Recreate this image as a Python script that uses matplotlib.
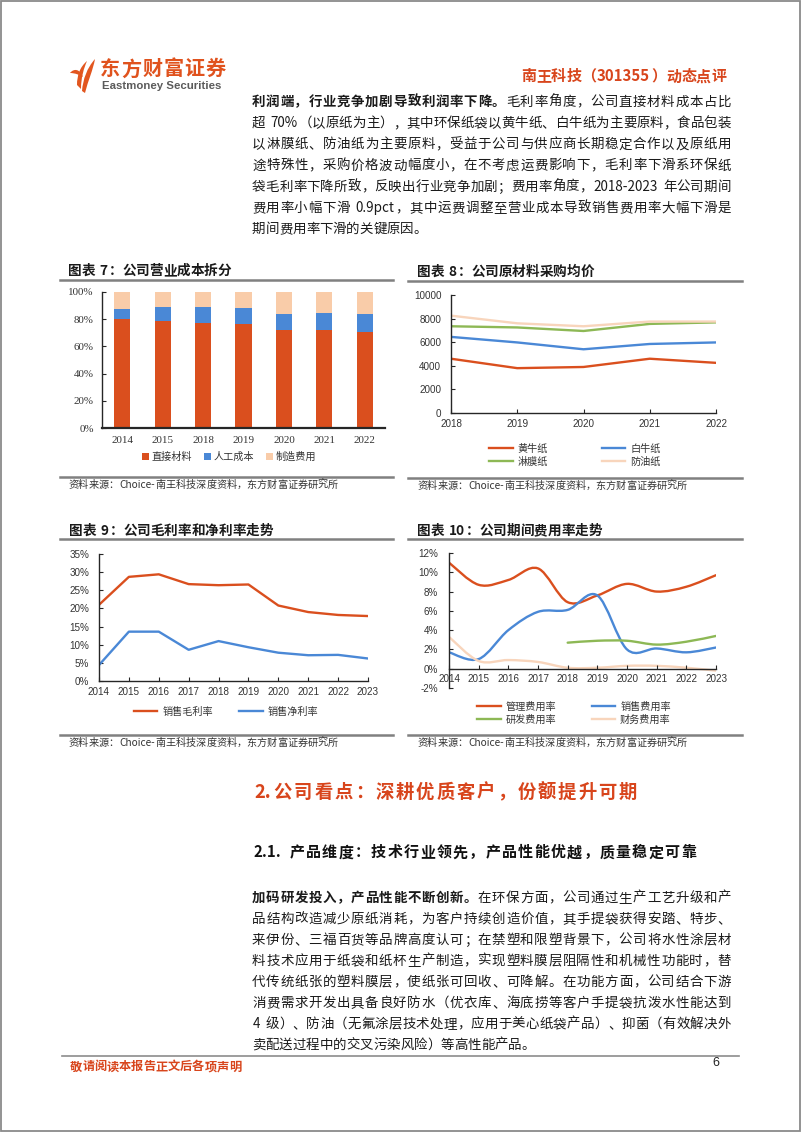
import re
import matplotlib
matplotlib.use('Agg')
import matplotlib.pyplot as plt
from matplotlib.path import Path
from matplotlib.patches import PathPatch, Patch, Rectangle
from matplotlib.lines import Line2D
from matplotlib.ticker import FuncFormatter

plt.rcParams['font.family'] = ['Noto Sans CJK SC', 'DejaVu Sans']
plt.rcParams['axes.unicode_minus'] = False

# 图表7：公司营业成本拆分（%）
cost_years = ['2014', '2015', '2018', '2019', '2020', '2021', '2022']
cost_material = [80.1, 78.4, 77.2, 76.5, 72.3, 72.3, 70.8]
cost_labor = [7.4, 10.3, 11.5, 11.7, 11.5, 12.5, 13.0]
cost_mfg = [12.5, 11.3, 11.3, 11.8, 16.2, 15.2, 16.2]

# 图表8：公司原材料采购均价
price_years = ['2018', '2019', '2020', '2021', '2022']
price_yellow = [4600, 3800, 3900, 4600, 4250]
price_white = [6450, 5980, 5400, 5850, 5980]
price_coated = [7350, 7250, 6950, 7550, 7680]
price_grease = [8250, 7600, 7350, 7750, 7750]

# 图表9：毛利率、净利率（%）
margin_years = ['2014', '2015', '2016', '2017', '2018', '2019', '2020', '2021', '2022', '2023']
gross_margin = [21.0, 28.7, 29.4, 26.7, 26.4, 26.6, 20.8, 19.0, 18.2, 17.9]
net_margin = [4.4, 13.6, 13.6, 8.6, 11.0, 9.3, 7.8, 7.1, 7.2, 6.2]

# 图表10：期间费用率（%），研发费用率从2018年起
fee_years = margin_years
fee_mgmt = [11.0, 8.7, 9.2, 10.4, 6.9, 7.6, 8.8, 8.0, 8.5, 9.7]
fee_sales = [1.7, 1.0, 4.0, 5.9, 6.1, 7.6, 2.0, 2.1, 1.7, 2.2]
fee_rd_years = ['2018', '2019', '2020', '2021', '2022', '2023']
fee_rd = [2.7, 2.9, 2.9, 2.5, 2.8, 3.4]
fee_fin = [3.3, 0.8, 0.9, 0.7, 0.1, 0.1, 0.3, 0.3, 0.1, -0.2]

para1 = [
    [('利润端，行业竞争加剧导致利润率下降。', 'bold'), ('毛利率角度，公司直接材料成本占比', 'normal')],
    [('超 70%（以原纸为主），其中环保纸袋以黄牛纸、白牛纸为主要原料，食品包装', 'normal')],
    [('以淋膜纸、防油纸为主要原料，受益于公司与供应商长期稳定合作以及原纸用', 'normal')],
    [('途特殊性，采购价格波动幅度小，在不考虑运费影响下，毛利率下滑系环保纸', 'normal')],
    [('袋毛利率下降所致，反映出行业竞争加剧；费用率角度，2018-2023 年公司期间', 'normal')],
    [('费用率小幅下滑 0.9pct，其中运费调整至营业成本导致销售费用率大幅下滑是', 'normal')],
    [('期间费用率下滑的关键原因。', 'normal')],
]
para2 = [
    [('加码研发投入，产品性能不断创新。', 'bold'), ('在环保方面，公司通过生产工艺升级和产', 'normal')],
    [('品结构改造减少原纸消耗，为客户持续创造价值，其手提袋获得安踏、特步、', 'normal')],
    [('来伊份、三福百货等品牌高度认可；在禁塑和限塑背景下，公司将水性涂层材', 'normal')],
    [('料技术应用于纸袋和纸杯生产制造，实现塑料膜层阻隔性和机械性功能时，替', 'normal')],
    [('代传统纸张的塑料膜层，使纸张可回收、可降解。在功能方面，公司结合下游', 'normal')],
    [('消费需求开发出具备良好防水（优衣库、海底捞等客户手提袋抗泼水性能达到', 'normal')],
    [('4 级）、防油（无氟涂层技术处理，应用于美心纸袋产品）、抑菌（有效解决外', 'normal')],
    [('卖配送过程中的交叉污染风险）等高性能产品。', 'normal')],
]

RED = '#DA4F1E'
BLUE = '#4A88D6'
PEACH = '#F9CCA9'
GREEN = '#8DB855'
LPEACH = '#F8D5BC'
TXT_RED = '#D8451C'
GRAY_RULE = '#808080'

W, H = 802, 1133
fig = plt.figure(figsize=(W / 100, H / 100), dpi=100)
renderer = fig.canvas.get_renderer()


def px(x):
    return x / W


def py(y):
    return 1 - y / H


TOK = re.compile(r'[A-Za-z0-9.%\-]+| |.')


def text_line(x, y, parts, size, color='#1a1a1a', width=None, right=False):
    # 逐字排版，可两端对齐
    em = size * 100 / 72
    base = py(y + 0.36 * em)
    items = []
    for s, weight in parts:
        for tok in TOK.findall(s):
            if tok == ' ':
                items.append([None, 0.28 * em, None])
            elif ord(tok[0]) > 0x2E7F:
                t = fig.text(0, base, tok, fontsize=size, weight=weight, color=color,
                             ha='center', va='baseline')
                items.append([t, em, 'c'])
            else:
                t = fig.text(0, base, tok, fontsize=size, weight=weight, color=color,
                             ha='left', va='baseline')
                w = t.get_window_extent(renderer).width
                items.append([t, w + 0.12 * em, 'l'])
    total = sum(it[1] for it in items)
    gap = 0
    if width is not None and len(items) > 1:
        gap = (width - total) / (len(items) - 1)
    cur = x - total if right else x
    for t, adv, mode in items:
        if t is not None:
            t.set_x(px(cur + adv / 2) if mode == 'c' else px(cur + 0.06 * em))
        cur += adv + gap


def hline(x0, x1, y, color=GRAY_RULE, lw=1.5):
    fig.add_artist(Line2D([px(x0), px(x1)], [py(y), py(y)], color=color, lw=lw,
                          transform=fig.transFigure))


def axes_px(x0, y0, x1, y1):
    return fig.add_axes([px(x0), py(y1), (x1 - x0) / W, (y1 - y0) / H])


def smooth_path(xs, ys):
    pts = list(zip(xs, ys))
    n = len(pts)
    verts = [pts[0]]
    codes = [Path.MOVETO]
    for i in range(n - 1):
        p0 = pts[max(i - 1, 0)]
        p1 = pts[i]
        p2 = pts[i + 1]
        p3 = pts[min(i + 2, n - 1)]
        c1 = (p1[0] + (p2[0] - p0[0]) / 6, p1[1] + (p2[1] - p0[1]) / 6)
        c2 = (p2[0] - (p3[0] - p1[0]) / 6, p2[1] - (p3[1] - p1[1]) / 6)
        verts += [c1, c2, p2]
        codes += [Path.CURVE4] * 3
    return Path(verts, codes)


def style_axes(ax, serif=False):
    for s in ['top', 'right']:
        ax.spines[s].set_visible(False)
    for s in ['left', 'bottom']:
        ax.spines[s].set_color('#262626')
        ax.spines[s].set_linewidth(1.0)
    fam = 'Liberation Serif' if serif else 'Liberation Sans'
    ax.tick_params(axis='both', direction='in', length=3, width=0.8, color='#262626',
                   labelsize=7.9 if serif else 7.1, labelcolor='#333333',
                   labelfontfamily=fam)
    ax.set_facecolor('none')


pct = FuncFormatter(lambda v, p: f'{v:.0f}%')

# ---------------- 页框、页眉 ----------------
fig.add_artist(Rectangle((px(1), py(1131)), (799) / W, (1130) / H, fill=False,
                         edgecolor='#8a8a8a', lw=1.3, transform=fig.transFigure))


def logo_shape(ops, color):
    verts, codes = [], []
    for op in ops:
        if op[0] == 'M':
            verts.append((px(op[1][0]), py(op[1][1])))
            codes.append(Path.MOVETO)
        else:
            for p in op[1:]:
                verts.append((px(p[0]), py(p[1])))
                codes.append(Path.CURVE4)
    verts.append(verts[0])
    codes.append(Path.CLOSEPOLY)
    fig.add_artist(PathPatch(Path(verts, codes), facecolor=color, edgecolor='none',
                             transform=fig.transFigure))


logo_shape([('M', (70, 73)), ('C', (74, 68), (80, 69), (83, 77)),
            ('C', (80, 75), (75, 73), (70, 73))], '#E2561F')
logo_shape([('M', (77, 85)), ('C', (77, 75), (80, 67), (87, 61)),
            ('C', (84, 68), (81, 77), (81, 89))], '#E2561F')
logo_shape([('M', (82, 91)), ('C', (83, 79), (87, 68), (95, 59)),
            ('C', (93, 70), (88, 81), (85, 93))], '#E2561F')
text_line(100, 68, [('东方财富证券', 'bold')], 14.5, color='#E0521D', width=126)
fig.text(px(102), py(86), 'Eastmoney Securities', fontsize=8.2, weight='bold',
         color='#5b5b5b', family='Liberation Sans', ha='left', va='center')
text_line(726, 76, [('南王科技（301355）动态点评', 'bold')], 10.8, color=TXT_RED, right=True)

# 正文第一段
for i, line in enumerate(para1):
    last = i == len(para1) - 1
    text_line(252, 101 + i * 21.2, line, 9.7, width=None if last else 479)

# ---------------- 图表7 ----------------
text_line(68, 270, [('图表 7：公司营业成本拆分', 'bold')], 9.8, color='#1a1a1a')
hline(60, 393, 280, lw=1.8)
ax7 = axes_px(102, 292, 385, 428)
xi = range(len(cost_years))
ax7.bar(xi, cost_material, width=0.4, color=RED, label='直接材料')
ax7.bar(xi, cost_labor, width=0.4, bottom=cost_material, color=BLUE, label='人工成本')
ax7.bar(xi, cost_mfg, width=0.4, bottom=[a + b for a, b in zip(cost_material, cost_labor)],
        color=PEACH, label='制造费用')
ax7.set_xlim(-0.5, len(cost_years) - 0.5)
ax7.set_ylim(0, 100)
ax7.set_yticks(range(0, 101, 20))
ax7.yaxis.set_major_formatter(pct)
ax7.set_xticks(list(xi))
ax7.set_xticklabels(cost_years)
style_axes(ax7, serif=True)
ax7.spines['bottom'].set_linewidth(1.6)
ax7.tick_params(axis='x', length=0, pad=6)
ax7.tick_params(axis='y', pad=6)
h7, l7 = ax7.get_legend_handles_labels()
fig.legend(h7, l7, loc='center', bbox_to_anchor=(px(229), py(457)), ncol=3, frameon=False,
           fontsize=7.3, handlelength=0.7, handleheight=0.7, handletextpad=0.25,
           columnspacing=1.2, labelcolor='#333333', borderpad=0)
hline(60, 393, 477, lw=1.8)
text_line(68, 484, [('资料来源：Choice-南王科技深度资料，东方财富证券研究所', 'normal')], 7.3,
          color='#333333')

# ---------------- 图表8 ----------------
text_line(417, 271, [('图表 8：公司原材料采购均价', 'bold')], 9.8)
hline(408, 742, 281, lw=1.8)
ax8 = axes_px(451, 295, 716, 413)
xp = range(len(price_years))
ax8.plot(xp, price_yellow, color=RED, lw=1.7, label='黄牛纸')
ax8.plot(xp, price_white, color=BLUE, lw=1.7, label='白牛纸')
ax8.plot(xp, price_coated, color=GREEN, lw=1.7, label='淋膜纸')
ax8.plot(xp, price_grease, color=LPEACH, lw=1.7, label='防油纸')
ax8.set_xlim(0, len(price_years) - 1)
ax8.set_ylim(0, 10000)
ax8.set_yticks(range(0, 10001, 2000))
ax8.set_xticks(list(xp))
ax8.set_xticklabels(price_years)
style_axes(ax8)
ax8.tick_params(axis='x', pad=4)
ax8.tick_params(axis='y', pad=7)
h8, l8 = ax8.get_legend_handles_labels()
order = [0, 2, 1, 3]
fig.legend([h8[i] for i in order], [l8[i] for i in order], loc='center',
           bbox_to_anchor=(px(575), py(455)), ncol=2, frameon=False, fontsize=7.3,
           handlelength=2.3, handletextpad=0.5, columnspacing=5.3, labelspacing=0.3,
           labelcolor='#333333', borderpad=0)
hline(408, 742, 478, lw=1.8)
text_line(417, 485, [('资料来源：Choice-南王科技深度资料，东方财富证券研究所', 'normal')], 7.3,
          color='#333333')

# ---------------- 图表9 ----------------
text_line(69, 530, [('图表 9：公司毛利率和净利率走势', 'bold')], 9.8)
hline(60, 393, 539, lw=1.8)
ax9 = axes_px(99, 554, 368, 681)
xm = range(len(margin_years))
ax9.plot(xm, gross_margin, color=RED, lw=1.7, label='销售毛利率')
ax9.plot(xm, net_margin, color=BLUE, lw=1.7, label='销售净利率')
ax9.set_xlim(0, len(margin_years) - 1)
ax9.set_ylim(0, 35)
ax9.set_yticks(range(0, 36, 5))
ax9.yaxis.set_major_formatter(pct)
ax9.set_xticks(list(xm))
ax9.set_xticklabels(margin_years)
style_axes(ax9)
ax9.tick_params(axis='x', pad=4)
ax9.tick_params(axis='y', pad=7)
h9, l9 = ax9.get_legend_handles_labels()
fig.legend(h9, l9, loc='center', bbox_to_anchor=(px(226), py(712)), ncol=2, frameon=False,
           fontsize=7.3, handlelength=2.3, handletextpad=0.5, columnspacing=2.6,
           labelcolor='#333333', borderpad=0)
hline(60, 393, 735, lw=1.8)
text_line(68, 742, [('资料来源：Choice-南王科技深度资料，东方财富证券研究所', 'normal')], 7.3,
          color='#333333')

# ---------------- 图表10 ----------------
text_line(417, 530, [('图表 10：公司期间费用率走势', 'bold')], 9.8)
hline(408, 742, 539, lw=1.8)
ax10 = axes_px(449, 553, 716, 688)
xf = list(range(len(fee_years)))
xr = [fee_years.index(y) for y in fee_rd_years]
series10 = [(xf, fee_mgmt, RED, '管理费用率'), (xf, fee_sales, BLUE, '销售费用率'),
            (xr, fee_rd, GREEN, '研发费用率'), (xf, fee_fin, LPEACH, '财务费用率')]
h10 = []
for xs, ys, c, name in series10:
    ax10.add_patch(PathPatch(smooth_path(xs, ys), fill=False, edgecolor=c, lw=1.7,
                             capstyle='round'))
    h10.append(Line2D([], [], color=c, lw=1.7, label=name))
ax10.set_xlim(0, len(fee_years) - 1)
ax10.set_ylim(-2, 12)
ax10.set_yticks(range(-2, 13, 2))
ax10.yaxis.set_major_formatter(pct)
ax10.set_xticks(xf)
ax10.set_xticklabels(fee_years)
style_axes(ax10)
ax10.spines['bottom'].set_position(('data', 0))
ax10.tick_params(axis='x', pad=4)
ax10.tick_params(axis='y', pad=8)
order = [0, 2, 1, 3]
fig.legend([h10[i] for i in order], [h10[i].get_label() for i in order], loc='center',
           bbox_to_anchor=(px(574), py(713)), ncol=2, frameon=False, fontsize=7.3,
           handlelength=2.3, handletextpad=0.5, columnspacing=3.5, labelspacing=0.3,
           labelcolor='#333333', borderpad=0)
hline(408, 742, 735, lw=1.8)
text_line(417, 742, [('资料来源：Choice-南王科技深度资料，东方财富证券研究所', 'normal')], 7.3,
          color='#333333')

# ---------------- 第二部分 ----------------
text_line(253, 791, [('2.公司看点：深耕优质客户，份额提升可期', 'bold')], 13.2,
          color=TXT_RED, width=384)
text_line(253, 852, [('2.1. 产品维度：技术行业领先，产品性能优越，质量稳定可靠', 'bold')], 10.8,
          color='#111111', width=443)
for i, line in enumerate(para2):
    last = i == len(para2) - 1
    text_line(252, 897 + i * 21.0, line, 9.7, width=None if last else 479)

hline(62, 739, 1056, color='#8c8c8c', lw=1.2)
text_line(70, 1066, [('敬请阅读本报告正文后各项声明', 'bold')], 8.8, color=TXT_RED)
fig.text(px(716), py(1063), '6', fontsize=9, color='#222222', family='Liberation Sans',
         ha='center', va='center')

fig.savefig('out.png', dpi=100)
